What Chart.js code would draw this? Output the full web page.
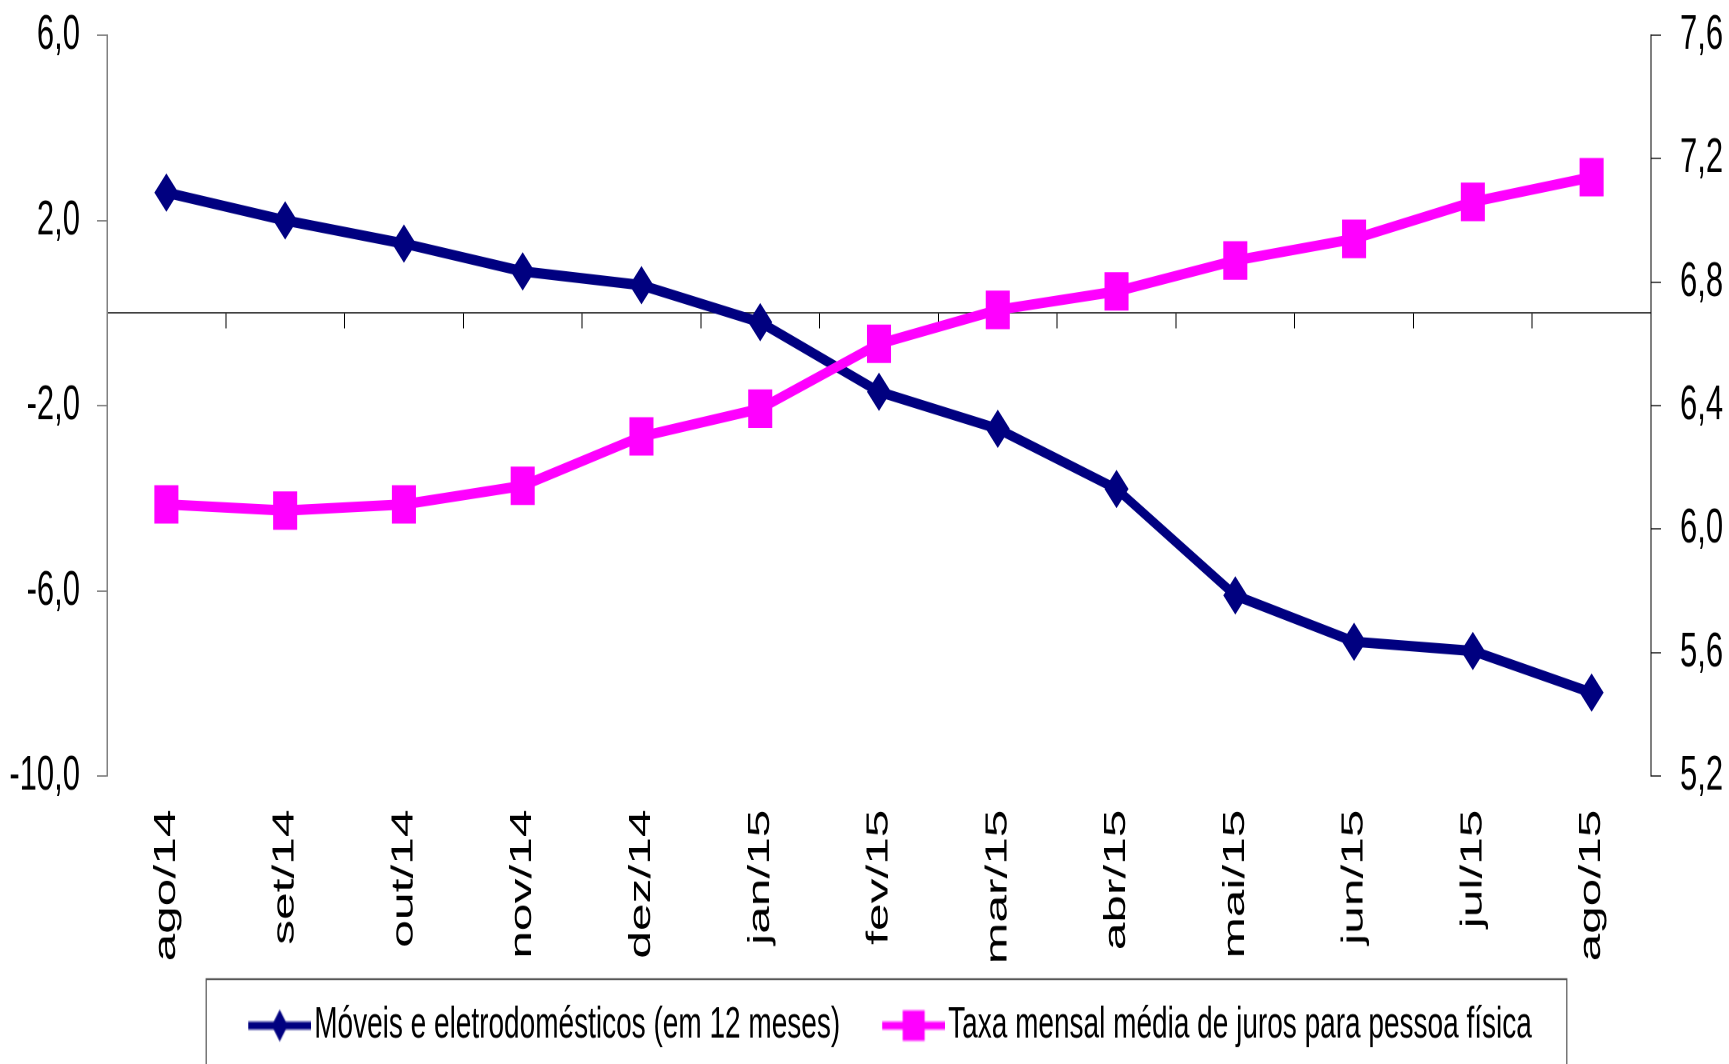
<!DOCTYPE html>
<html>
<head>
<meta charset="utf-8">
<script src="https://cdn.jsdelivr.net/npm/chart.js@4/dist/chart.umd.min.js"></script>
<style>
  html, body { margin: 0; padding: 0; background: #fff; overflow: hidden; }
  #c { display: block; width: 1729px; height: 1064px; }
</style>
</head>
<body>
<!-- The reference chart is vertically stretched (square markers are 1.6x taller than wide),
     so the chart is laid out at 1729x665 and displayed stretched to 1729x1064. -->
<canvas id="c" width="1729" height="665" style="width:1729px;height:1064px"></canvas>
<script>
const categories = ['ago/14','set/14','out/14','nov/14','dez/14','jan/15','fev/15','mar/15','abr/15','mai/15','jun/15','jul/15','ago/15'];
const moveis = [2.6, 2.0, 1.5, 0.9, 0.6, -0.2, -1.7, -2.5, -3.8, -6.1, -7.1, -7.3, -8.2];
const taxa = [6.08, 6.06, 6.08, 6.14, 6.30, 6.39, 6.60, 6.71, 6.77, 6.87, 6.94, 7.06, 7.14];
const seriesNames = ['Móveis e eletrodomésticos (em 12 meses)', 'Taxa mensal média de juros para pessoa física'];
const leftTicks = { min: -10, max: 6, step: 4 };
const rightTicks = { min: 5.2, max: 7.6, step: 0.4 };

const NAVY = '#000080';
const MAGENTA = '#FF00FF';
const FONT = "'Liberation Sans', Arial, sans-serif";

// legend sample: line with marker, visible part at the right end of the image
function legendSample(kind, color) {
  const W = 96, H = 24, L = 63;
  const c = document.createElement('canvas');
  c.width = W; c.height = H;
  const x = c.getContext('2d');
  const x0 = W - L, cy = H / 2, cx = W - L / 2;
  x.strokeStyle = color; x.fillStyle = color; x.lineWidth = 5;
  x.beginPath(); x.moveTo(x0, cy); x.lineTo(W, cy); x.stroke();
  x.beginPath();
  if (kind === 'diamond') {
    x.moveTo(cx, cy - 10); x.lineTo(cx + 8, cy); x.lineTo(cx, cy + 10); x.lineTo(cx - 8, cy);
  } else {
    x.rect(cx - 11, cy - 9.5, 22, 19);
  }
  x.closePath(); x.fill();
  return c;
}
const legDiamond = legendSample('diamond', NAVY);
const legSquare = legendSample('square', MAGENTA);

const fmt = v => Number(v).toFixed(1).replace('.', ',');
const tickFont = { family: FONT, size: 31 };

const legendBorder = {
  id: 'legendBorder',
  afterDraw(chart) {
    const lg = chart.legend;
    if (!lg || !lg.legendHitBoxes || !lg.legendHitBoxes.length) return;
    const hb = lg.legendHitBoxes;
    const last = hb[hb.length - 1];
    const left = hb[0].left + 22 - 42;
    const right = last.left + last.width + 35;
    const top = hb[0].top + hb[0].height / 2 - 29;
    const ctx = chart.ctx;
    ctx.save();
    ctx.strokeStyle = '#555';
    ctx.lineWidth = 1.2;
    ctx.strokeRect(left, top, right - left, chart.height + 10 - top);
    ctx.restore();
  }
};

new Chart(document.getElementById('c'), {
  type: 'line',
  data: {
    labels: categories,
    datasets: [
      {
        label: seriesNames[0],
        data: moveis,
        yAxisID: 'y',
        xAxisID: 'x',
        borderColor: NAVY,
        backgroundColor: NAVY,
        borderWidth: 6.5,
        pointStyle: 'rectRot',
        pointRadius: 12,
        pointBorderWidth: 0,
        tension: 0,
        order: 1
      },
      {
        label: seriesNames[1],
        data: taxa,
        yAxisID: 'y1',
        xAxisID: 'x',
        borderColor: MAGENTA,
        backgroundColor: MAGENTA,
        borderWidth: 6.5,
        pointStyle: 'rect',
        pointRadius: 17,
        pointBorderWidth: 0,
        tension: 0,
        order: 0
      }
    ]
  },
  options: {
    responsive: false,
    devicePixelRatio: 2,
    animation: false,
    events: [],
    layout: { padding: { top: 22, left: 0, right: 0, bottom: 0 } },
    plugins: {
      tooltip: { enabled: false },
      legend: {
        position: 'bottom',
        fullSize: false,
        labels: {
          usePointStyle: true,
          pointStyleWidth: 74,
          padding: 20,
          color: '#000',
          font: { family: FONT, size: 28 },
          generateLabels(chart) {
            return chart.data.datasets.map((ds, i) => ({
              text: ds.label,
              pointStyle: i === 0 ? legDiamond : legSquare,
              fillStyle: ds.borderColor,
              strokeStyle: ds.borderColor,
              lineWidth: 0,
              hidden: false,
              datasetIndex: i
            }));
          }
        }
      }
    },
    scales: {
      x: {
        type: 'category',
        position: 'bottom',
        offset: true,
        grid: { display: false, drawTicks: false },
        border: { display: false },
        ticks: {
          autoSkip: false,
          minRotation: 90,
          maxRotation: 90,
          padding: 21,
          color: '#000',
          font: { family: FONT, size: 31 }
        },
        afterFit(scale) { scale.height = 122; }
      },
      x2: {
        type: 'category',
        axis: 'x',
        position: { y: 0 },
        offset: true,
        grid: { display: true, offset: true, drawOnChartArea: false, drawTicks: true, tickLength: 9.4, color: '#000', lineWidth: 1 },
        border: { display: true, color: '#000', width: 0.7 },
        ticks: { display: false }
      },
      y: {
        type: 'linear',
        position: 'left',
        min: leftTicks.min,
        max: leftTicks.max,
        grid: { drawOnChartArea: false, drawTicks: true, tickLength: 10, color: '#555', lineWidth: 0.7 },
        border: { display: true, color: '#808080', width: 1.5 },
        ticks: {
          stepSize: leftTicks.step,
          padding: 17,
          color: '#000',
          font: tickFont,
          callback: v => fmt(v)
        },
        afterFit(scale) { scale.width = 107; scale.paddingTop = 0; scale.paddingBottom = 0; }
      },
      y1: {
        type: 'linear',
        position: 'right',
        min: rightTicks.min,
        max: rightTicks.max,
        grid: { drawOnChartArea: false, drawTicks: true, tickLength: 10, color: '#000', lineWidth: 0.7 },
        border: { display: true, color: '#000', width: 1 },
        ticks: {
          stepSize: rightTicks.step,
          padding: 19,
          color: '#000',
          font: tickFont,
          callback: v => fmt(v)
        },
        afterFit(scale) { scale.width = 78; scale.paddingTop = 0; scale.paddingBottom = 0; }
      }
    }
  },
  plugins: [legendBorder]
});
</script>
</body>
</html>
